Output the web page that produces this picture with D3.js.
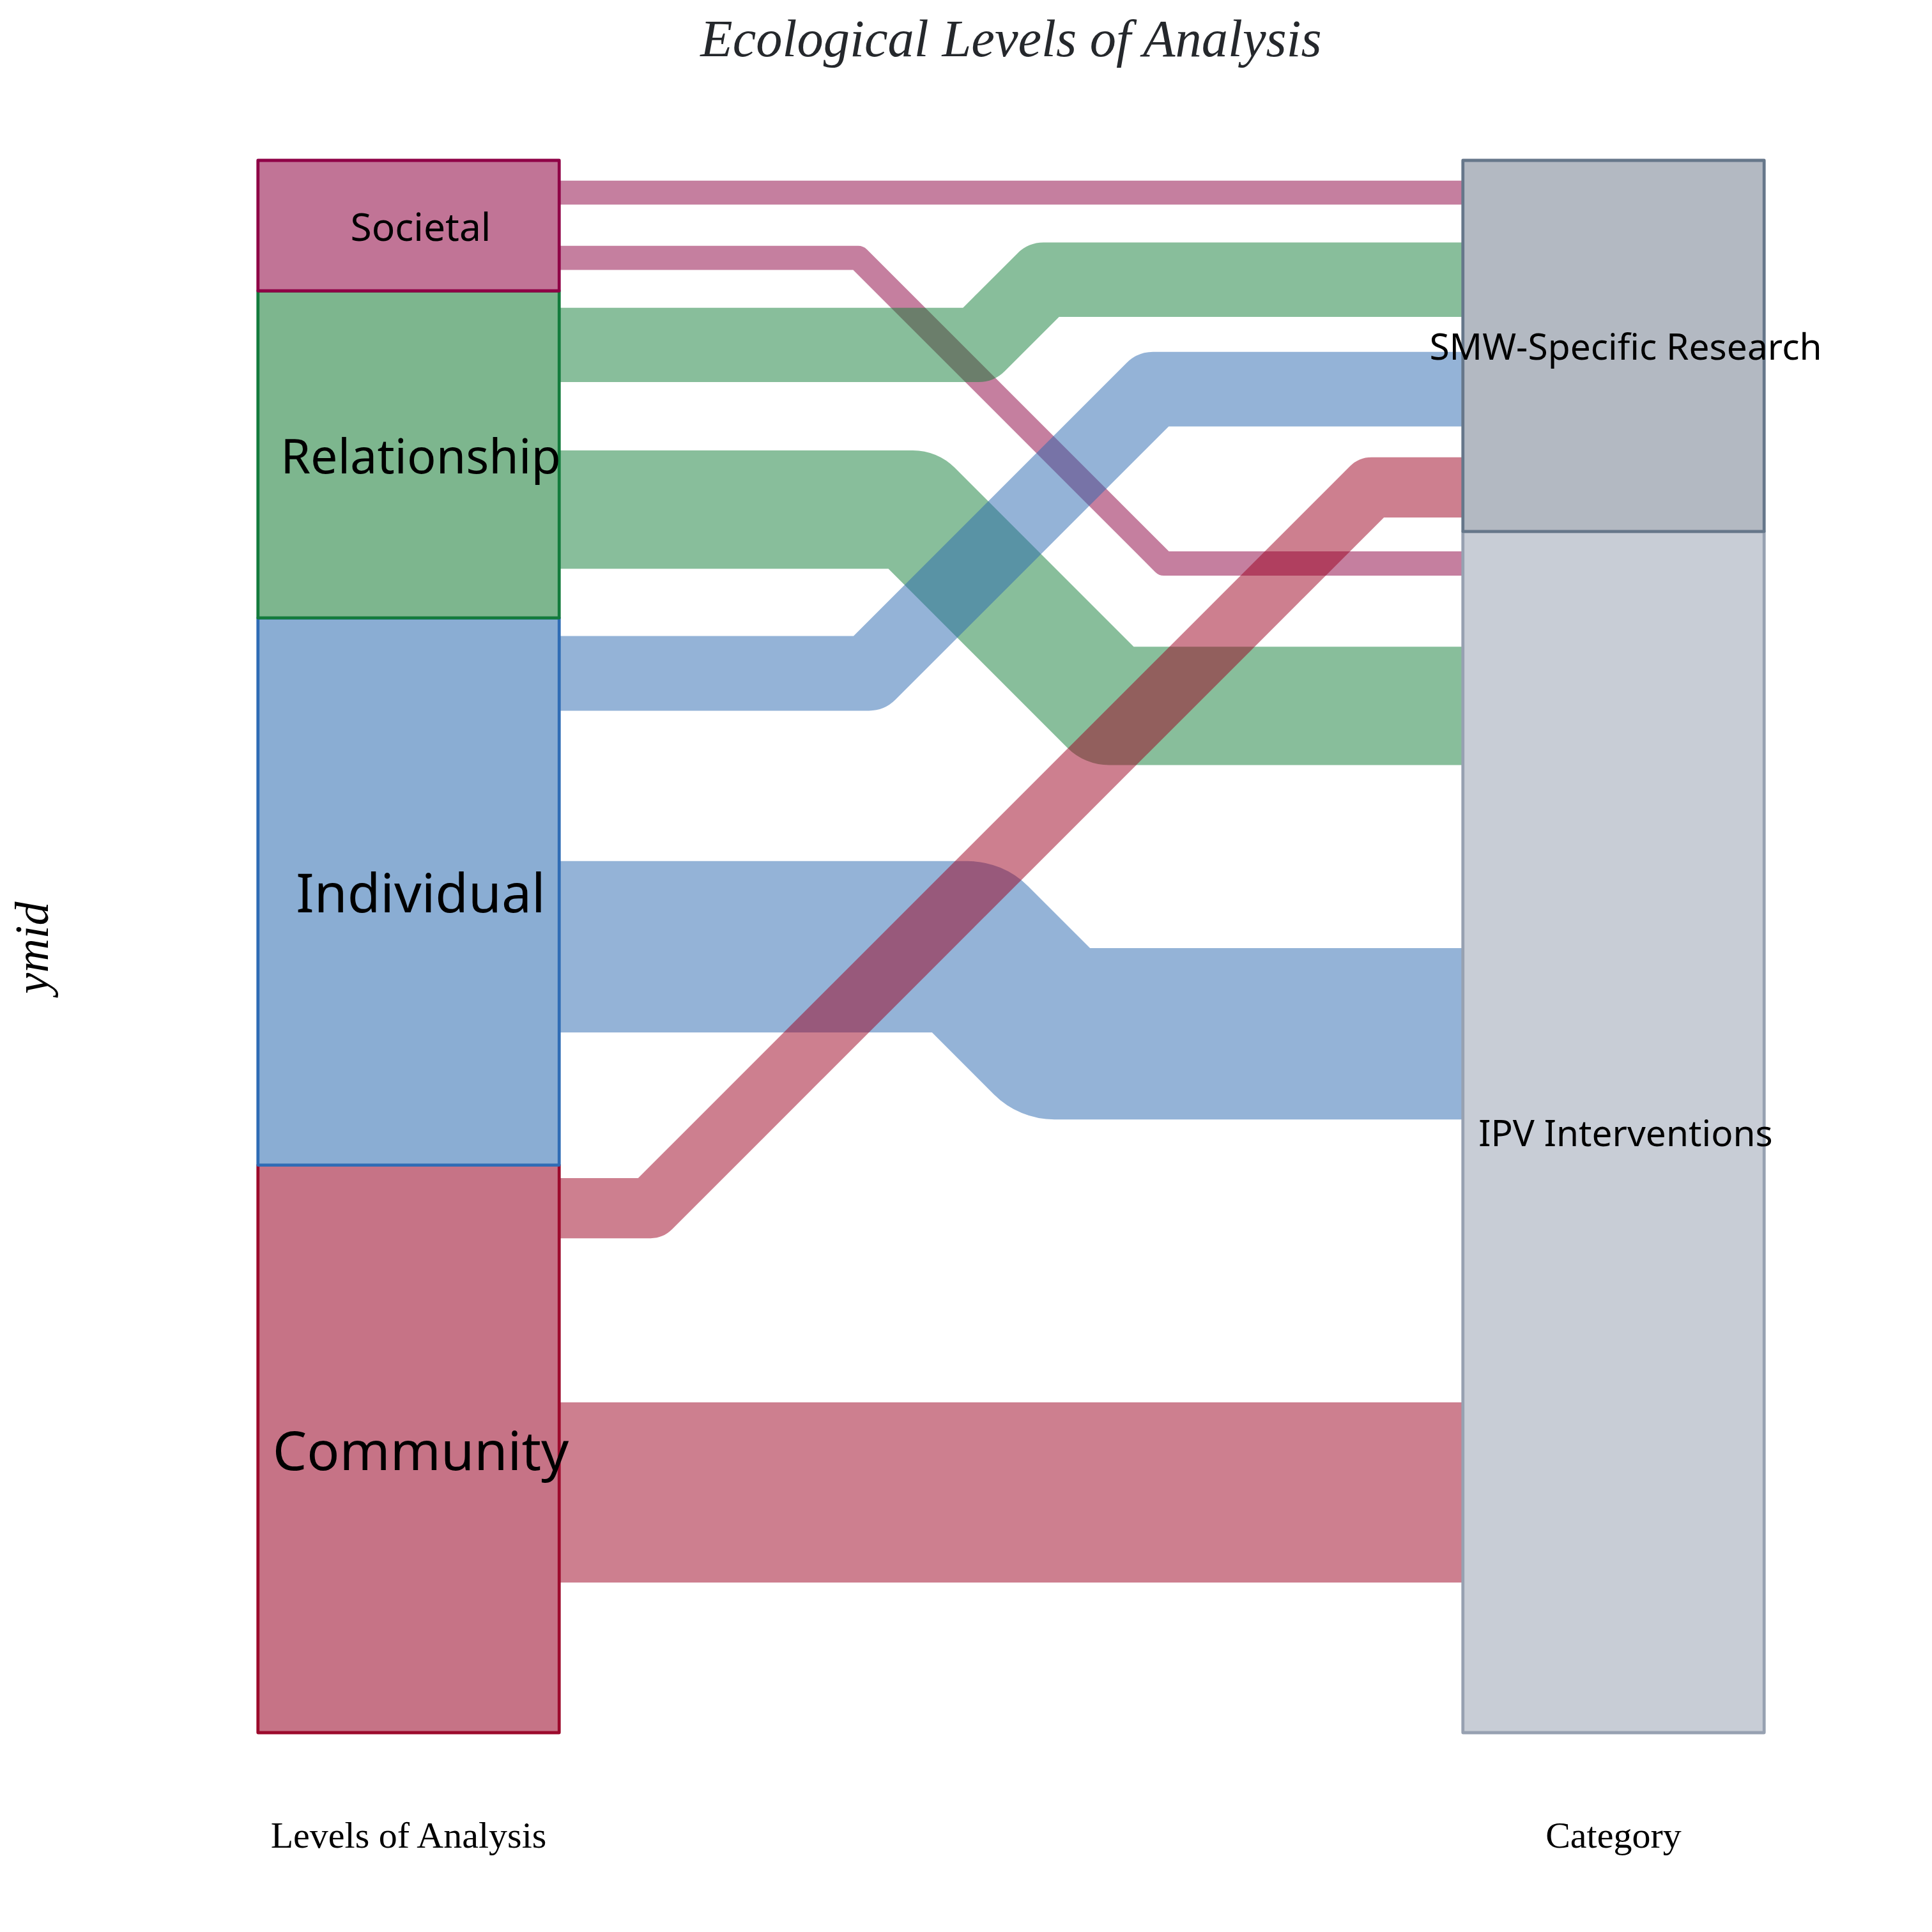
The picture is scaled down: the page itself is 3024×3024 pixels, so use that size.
<!DOCTYPE html>
<html>
<head>
<meta charset="utf-8">
<script src="https://cdn.jsdelivr.net/npm/d3@7"></script>
<style>
  html, body { margin: 0; padding: 0; background: #ffffff; }
  svg { display: block; }
</style>
</head>
<body>
<script>
// ---------------- data ----------------
const levels = ["Societal", "Relationship", "Individual", "Community"];
const levelValues = [8.3, 20.8, 34.8, 36.1];          // node heights (share, %)
const categories = ["SMW-Specific Research", "IPV Interventions"];
const categoryValues = [23.6, 76.4];

const flowSource = ["Societal", "Societal", "Relationship", "Relationship", "Individual", "Individual", "Community", "Community"];
const flowTarget = ["SMW-Specific Research", "IPV Interventions", "SMW-Specific Research", "IPV Interventions", "SMW-Specific Research", "IPV Interventions", "SMW-Specific Research", "IPV Interventions"];
const flowValue  = [1.52, 1.54, 4.73, 7.53, 4.75, 10.9, 3.83, 11.46];   // ribbon width
const flowYmidSource = [2.05, 6.2, 11.74, 22.21, 32.63, 50.02, 66.64, 84.72];
const flowYmidTarget = [2.05, 25.64, 7.59, 34.7, 14.55, 55.55, 20.8, 84.72];

const axisLabels = ["Levels of Analysis", "Category"];
const yTitle = "ymid";
const titleText = "Ecological Levels of Analysis";

// ---------------- styles ----------------
const levelFill   = {Societal: "#c17496", Relationship: "#7db68e", Individual: "#8aadd3", Community: "#c67386"};
const levelStroke = {Societal: "#8f0046", Relationship: "#137b3c", Individual: "#2f6cb5", Community: "#9c0a2c"};
const flowColor   = {Societal: "#8b003f", Relationship: "#117d37", Individual: "#2967af", Community: "#9b001f"};
const catFill     = {"SMW-Specific Research": "#b3b9c2", "IPV Interventions": "#c8cdd6"};
const catStroke   = {"SMW-Specific Research": "#66778a", "IPV Interventions": "#97a1b1"};
const labelSize   = {Societal: 60.5, Relationship: 75.4, Individual: 84, Community: 84.7,
                     "SMW-Specific Research": 56.9, "IPV Interventions": 56.8};

const W = 3024, H = 3024;
const svg = d3.select("body").append("svg").attr("width", W).attr("height", H);

const x = d3.scaleLinear().domain([1, 2]).range([639.5, 2525.5]);
const y = d3.scaleLinear().domain([0, 100]).range([251, 2712]);
const nodeHalf = 0.125;

function stack(names, vals, pos) {
  let acc = 0;
  return names.map((n, i) => {
    const d = {name: n, pos: pos, y0: acc, y1: acc + vals[i]};
    acc += vals[i];
    return d;
  });
}
const leftNodes = stack(levels, levelValues, 1);
const rightNodes = stack(categories, categoryValues, 2);

// ---------------- flows ----------------
const flows = flowSource.map((s, i) => ({
  source: s, target: flowTarget[i], value: flowValue[i],
  ys: flowYmidSource[i], yt: flowYmidTarget[i]
}));
const line = d3.line();
const xa = x(1 + nodeHalf), xb = x(2 - nodeHalf), xm = x(1.5);
const pxPerUnit = y(1) - y(0);

svg.append("g").selectAll("path").data(flows).join("path")
  .attr("d", d => {
    const y0 = y(d.ys), y1 = y(d.yt);
    const h = Math.abs(y1 - y0) / 2;
    return line([[xa, y0], [xm - h, y0], [xm + h, y1], [xb, y1]]);
  })
  .attr("fill", "none")
  .attr("stroke", d => flowColor[d.source])
  .attr("stroke-opacity", 0.5)
  .attr("stroke-width", d => d.value * pxPerUnit)
  .attr("stroke-linejoin", "round")
  .attr("stroke-linecap", "butt");

// ---------------- nodes ----------------
const nodeG = svg.append("g");
nodeG.selectAll("rect.l").data(leftNodes.slice().reverse()).join("rect")
  .attr("x", d => x(d.pos - nodeHalf))
  .attr("width", d => x(d.pos + nodeHalf) - x(d.pos - nodeHalf))
  .attr("y", d => y(d.y0))
  .attr("height", d => y(d.y1) - y(d.y0))
  .attr("fill", d => levelFill[d.name])
  .attr("stroke", d => levelStroke[d.name])
  .attr("stroke-width", 4.8)
  .attr("stroke-linejoin", "round");
nodeG.selectAll("rect.r").data(rightNodes.slice().reverse(), d => d.name).join("rect")
  .attr("x", d => x(d.pos - nodeHalf))
  .attr("width", d => x(d.pos + nodeHalf) - x(d.pos - nodeHalf))
  .attr("y", d => y(d.y0))
  .attr("height", d => y(d.y1) - y(d.y0))
  .attr("fill", d => catFill[d.name])
  .attr("stroke", d => catStroke[d.name])
  .attr("stroke-width", 4.8)
  .attr("stroke-linejoin", "round");

// ---------------- labels ----------------
const allNodes = leftNodes.concat(rightNodes);
svg.append("g").selectAll("text").data(allNodes).join("text")
  .attr("x", d => x(d.pos) + 19)
  .attr("y", d => y((d.y0 + d.y1) / 2))
  .attr("text-anchor", "middle")
  .attr("dominant-baseline", "central")
  .attr("font-family", "'Noto Sans', sans-serif")
  .attr("font-size", d => labelSize[d.name])
  .attr("fill", "#000")
  .text(d => d.name);

// ---------------- titles ----------------
svg.append("text")
  .attr("x", x(1.5)).attr("y", 88)
  .attr("text-anchor", "middle")
  .attr("font-family", "'Liberation Serif', serif")
  .attr("font-style", "italic")
  .attr("font-size", 82.5)
  .attr("fill", "#25282c")
  .text(titleText);

svg.append("g").selectAll("text").data(axisLabels).join("text")
  .attr("x", (d, i) => x(i + 1))
  .attr("y", 2892)
  .attr("text-anchor", "middle")
  .attr("font-family", "'Liberation Serif', serif")
  .attr("font-size", 58)
  .attr("fill", "#000")
  .text(d => d);

svg.append("text")
  .attr("transform", `translate(75, ${y(50) + 2}) rotate(-90)`)
  .attr("text-anchor", "middle")
  .attr("font-family", "'Liberation Serif', serif")
  .attr("font-style", "italic")
  .attr("font-size", 74)
  .attr("fill", "#000")
  .text(yTitle);
</script>
</body>
</html>
